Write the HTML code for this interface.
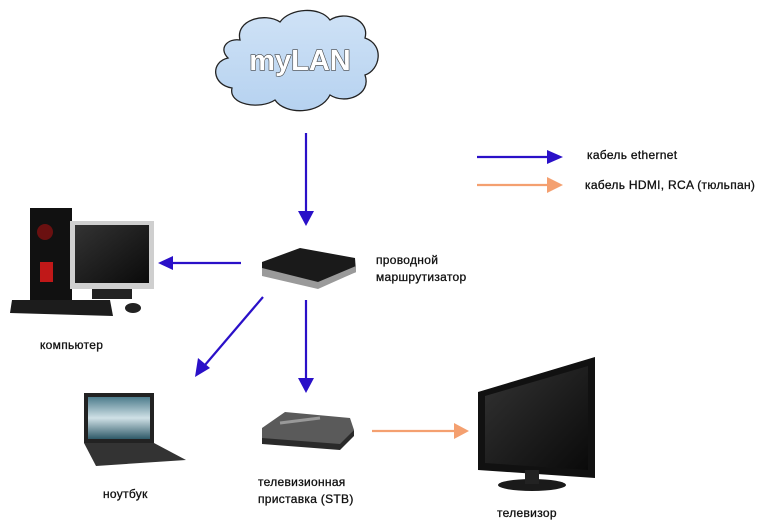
<!DOCTYPE html>
<html><head><meta charset="utf-8"><style>
body{margin:0;background:#fff;width:780px;height:527px;overflow:hidden}
svg{display:block}
text{font-family:"Liberation Sans",sans-serif;font-size:12px;fill:#111;stroke:#111;stroke-width:0.3;letter-spacing:0.3px}
</style></head><body>
<svg width="780" height="527" viewBox="0 0 780 527">
<defs>
<linearGradient id="cl" x1="0" y1="0" x2="0" y2="1"><stop offset="0" stop-color="#cfe2f6"/><stop offset="1" stop-color="#b6d2f0"/></linearGradient>
<linearGradient id="scr" x1="0" y1="0" x2="1" y2="1"><stop offset="0" stop-color="#333"/><stop offset="1" stop-color="#0a0a0a"/></linearGradient>
<linearGradient id="lap" x1="0" y1="0" x2="0" y2="1"><stop offset="0" stop-color="#4d7c8c"/><stop offset="0.5" stop-color="#cfe0e6"/><stop offset="1" stop-color="#2f5a68"/></linearGradient>
</defs>
<path d="M240,40 C235,20 265,12 280,22 C290,8 320,6 330,20 C345,10 370,20 365,38 C385,45 380,70 365,75 C372,95 345,105 330,95 C320,115 285,115 275,100 C260,110 228,105 232,88 C212,85 210,62 228,58 C218,48 228,38 240,40 Z" fill="url(#cl)" stroke="#222" stroke-width="1.3"/>
<text x="300" y="70" text-anchor="middle" style="font-size:29px;font-weight:bold;fill:#fff;stroke:#444;stroke-width:1.2;paint-order:stroke;letter-spacing:0">myLAN</text>
<g stroke="#2a10c8" stroke-width="2.2" fill="#2a10c8">
<line x1="306" y1="133" x2="306" y2="212"/><polygon points="298,211 314,211 306,226" stroke="none"/>
<line x1="241" y1="263" x2="172" y2="263"/><polygon points="173,256 173,270 158,263" stroke="none"/>
<line x1="263" y1="297" x2="205" y2="365"/><polygon points="198,358 210,368 195,377" stroke="none"/>
<line x1="306" y1="300" x2="306" y2="379"/><polygon points="298,378 314,378 306,393" stroke="none"/>
<line x1="477" y1="157" x2="548" y2="157"/><polygon points="547,150 547,164 563,157" stroke="none"/>
</g>
<g stroke="#f4a070" stroke-width="2.2" fill="#f4a070">
<line x1="372" y1="431" x2="455" y2="431"/><polygon points="454,423 454,439 469,431" stroke="none"/>
<line x1="477" y1="185" x2="548" y2="185"/><polygon points="547,177 547,193 563,185" stroke="none"/>
</g>
<text x="587" y="159">кабель ethernet</text>
<text x="585" y="189">кабель HDMI, RCA (тюльпан)</text>
<polygon points="262,262 300,248 355,258 356,272 318,288 262,275" fill="#1a1a1a"/>
<polygon points="262,268 318,282 356,266 356,272 318,289 262,276" fill="#9a9a9a"/>
<text x="376" y="264">проводной</text>
<text x="376" y="281">маршрутизатор</text>
<rect x="30" y="208" width="42" height="92" fill="#111"/>
<circle cx="45" cy="232" r="8" fill="#6a1010"/>
<rect x="40" y="262" width="13" height="20" fill="#c01818"/>
<rect x="70" y="221" width="84" height="68" fill="#cfcfcf"/>
<rect x="75" y="225" width="74" height="58" fill="url(#scr)"/>
<rect x="92" y="289" width="40" height="10" fill="#222"/>
<polygon points="12,300 110,300 113,316 10,313" fill="#1c1c1c"/>
<ellipse cx="133" cy="308" rx="8" ry="5" fill="#222"/>
<text x="40" y="349">компьютер</text>
<rect x="84" y="393" width="70" height="50" fill="#222"/>
<rect x="88" y="397" width="62" height="42" fill="url(#lap)"/>
<polygon points="84,443 154,443 186,460 96,466" fill="#333"/>
<text x="103" y="498">ноутбук</text>
<polygon points="262,428 285,412 350,418 354,430 340,446 262,440" fill="#5a5a5a"/>
<polygon points="262,438 340,444 354,430 354,436 340,450 262,444" fill="#2a2a2a"/>
<line x1="280" y1="423" x2="320" y2="418" stroke="#999" stroke-width="3"/>
<text x="258" y="486">телевизионная</text>
<text x="258" y="503">приставка (STB)</text>
<polygon points="478,392 595,357 595,478 478,470" fill="#111"/>
<polygon points="485,396 588,366 588,470 485,463" fill="url(#scr)"/>
<ellipse cx="532" cy="485" rx="34" ry="6" fill="#1a1a1a"/>
<rect x="525" y="470" width="14" height="14" fill="#222"/>
<text x="497" y="517">телевизор</text>
</svg>
</body></html>
